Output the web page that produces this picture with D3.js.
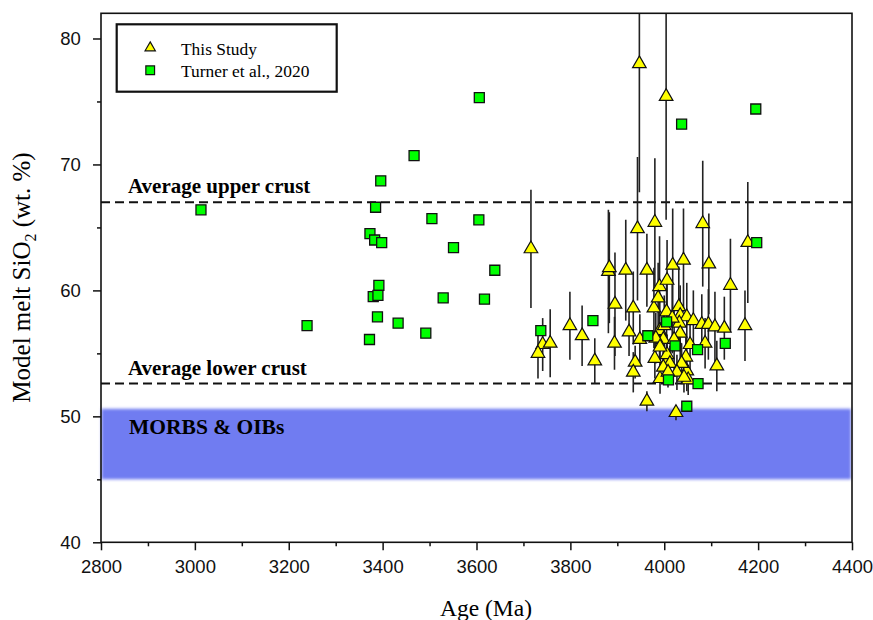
<!DOCTYPE html>
<html>
<head>
<meta charset="utf-8">
<script src="https://cdn.jsdelivr.net/npm/d3@7"></script>
<style>
  body { margin: 0; background: #fff; }
  svg { display: block; }
</style>
</head>
<body>
<script>
// This Study: age (Ma), model melt SiO2 (wt. %), +/- error
var studyAge = [3716, 3741, 3731, 3757, 3799, 3825, 3852, 3881, 3883, 3895, 3894, 3918, 3925, 3934,
    3938, 3934, 3943, 3947, 3948, 3963, 3963, 3978, 3980, 3980, 3990, 3987, 3990, 3991, 4006, 4004,
    4018, 4041, 4082, 4095, 4031, 4005, 4034, 4048, 4062, 4080, 4094, 4108, 4128, 4032, 3998, 4087,
    4112, 4048, 4051, 4025, 4005, 4141, 4178, 4172, 3982, 4034, 4006, 4046, 3991, 4012, 4037, 3998,
    4021, 4027, 4000, 4017, 4055, 4008, 4042]
var studySiO2 = [63.3, 55.7, 55.0, 55.8, 57.2, 56.4, 54.4, 61.5, 61.8, 58.9, 55.8, 61.6, 56.7, 58.6,
    54.3, 53.5, 64.9, 78.0, 56.1, 61.6, 51.2, 58.6, 65.4, 54.6, 60.3, 59.4, 56.8, 53.0, 60.8, 75.4,
    62.0, 62.4, 65.3, 62.1, 58.7, 58.3, 58.0, 57.9, 57.6, 57.3, 57.3, 57.1, 57.0, 57.4, 56.1, 55.8,
    54.0, 53.6, 52.9, 50.3, 54.3, 60.4, 63.8, 57.2, 56.2, 56.6, 54.9, 54.7, 55.5, 54.2, 54.2, 53.9,
    56.1, 53.5, 57.2, 57.8, 55.7, 53.5, 53.1]
var studyErr = [4.7, 2.1, 2.0, 2.7, 2.7, 2.4, 1.8, 4.9, 4.4, 4.1, 2.1, 4.0, 1.9, 2.9,
    1.3, 1.6, 5.7, 10.2, 2.0, 2.9, 0.8, 3.2, 5.1, 1.6, 4.0, 2.8, 2.4, 1.2, 3.2, 9.8,
    4.5, 4.1, 5.0, 4.0, 3.2, 2.8, 2.4, 2.7, 2.4, 2.4, 2.8, 2.8, 2.5, 2.0, 2.0, 2.0,
    2.0, 1.6, 1.2, 0.6, 1.4, 3.7, 4.8, 2.8, 2.0, 2.4, 1.6, 1.6, 2.0, 1.4, 1.6, 1.2,
    2.4, 1.4, 2.4, 2.8, 2.0, 1.2, 1.2]

// Turner et al., 2020
var turnerAge = [3013, 3239, 3372, 3373, 3385, 3383, 3398, 3396, 3392, 3380, 3390, 3389, 3433, 3492,
    3467, 3505, 3605, 3606, 3551, 3639, 3529, 3617, 3737, 3848, 3965, 4005, 4009, 4023, 4071, 4130,
    4072, 4048, 4037, 4195, 4197]
var turnerSiO2 = [66.4, 57.2, 56.1, 64.5, 66.6, 64.0, 63.8, 68.7, 60.4, 59.5, 59.6, 57.9, 57.4, 56.6,
    70.7, 65.7, 65.6, 75.3, 63.4, 61.6, 59.4, 59.3, 56.8, 57.6, 56.4, 57.5, 52.9, 55.6, 55.3, 55.8,
    52.6, 50.8, 73.2, 74.4, 63.8]

// reference lines and field
var upperCrust = 67.0
var lowerCrust = 52.6
var morbBand = [45.0, 50.6]

var xTicks = [2800, 3000, 3200, 3400, 3600, 3800, 4000, 4200, 4400]
var yTicks = [40, 50, 60, 70, 80]

var W = 873, H = 620
var margin = { left: 101, right: 21, top: 13.3, bottom: 77.7 }
var pw = W - margin.left - margin.right
var ph = H - margin.top - margin.bottom

var x = d3.scaleLinear().domain([2800, 4400]).range([0, pw])
var y = d3.scaleLinear().domain([40, 82]).range([ph, 0])

var svg = d3.select('body').append('svg').attr('width', W).attr('height', H)

var defs = svg.append('defs')
defs.append('filter').attr('id', 'soft').attr('x', '-5%').attr('y', '-20%')
    .attr('width', '110%').attr('height', '140%')
    .append('feGaussianBlur').attr('stdDeviation', 1.4)
defs.append('clipPath').attr('id', 'plotclip')
    .append('rect').attr('width', pw).attr('height', ph)

var g = svg.append('g').attr('transform', 'translate(' + margin.left + ',' + margin.top + ')')

// MORB / OIB field
g.append('rect')
    .attr('x', x(2801))
    .attr('width', x(4398) - x(2801))
    .attr('y', y(morbBand[1]))
    .attr('height', y(morbBand[0]) - y(morbBand[1]))
    .attr('fill', '#6f7bf1')
    .attr('filter', 'url(#soft)')

// crust lines
;[upperCrust, lowerCrust].forEach(function (v) {
    g.append('line')
        .attr('x1', 0).attr('x2', pw)
        .attr('y1', y(v)).attr('y2', y(v))
        .attr('stroke', '#111')
        .attr('stroke-width', 2)
        .attr('stroke-dasharray', '9,5')
})

var serif = '"Liberation Serif", "Times New Roman", serif'
var sans = '"Liberation Sans", Arial, sans-serif'

g.append('text').attr('x', 27).attr('y', y(upperCrust) - 9)
    .attr('font-family', serif).attr('font-weight', 'bold').attr('font-size', 21)
    .text('Average upper crust')
g.append('text').attr('x', 27).attr('y', y(lowerCrust) - 9)
    .attr('font-family', serif).attr('font-weight', 'bold').attr('font-size', 21)
    .text('Average lower crust')
g.append('text').attr('x', 28).attr('y', y(48.6))
    .attr('font-family', serif).attr('font-weight', 'bold').attr('font-size', 21.5)
    .text('MORBS & OIBs')

// points
var pts = g.append('g').attr('clip-path', 'url(#plotclip)')

var study = studyAge.map(function (a, i) {
    return { age: a, si: studySiO2[i], err: studyErr[i] }
})
var turner = turnerAge.map(function (a, i) {
    return { age: a, si: turnerSiO2[i] }
})

pts.selectAll('line.err').data(study).enter().append('line')
    .attr('class', 'err')
    .attr('x1', function (d) { return x(d.age) })
    .attr('x2', function (d) { return x(d.age) })
    .attr('y1', function (d) { return y(d.si + d.err) })
    .attr('y2', function (d) { return y(d.si - d.err) })
    .attr('stroke', '#222')
    .attr('stroke-width', 1.6)

var tri = d3.symbol().type(d3.symbolTriangle).size(80)
var sq = d3.symbol().type(d3.symbolSquare).size(100)

pts.selectAll('path.tri').data(study).enter().append('path')
    .attr('class', 'tri')
    .attr('d', tri)
    .attr('transform', function (d) { return 'translate(' + x(d.age) + ',' + y(d.si) + ')' })
    .attr('fill', '#ffff00')
    .attr('stroke', '#111')
    .attr('stroke-width', 1.2)

pts.selectAll('path.sq').data(turner).enter().append('path')
    .attr('class', 'sq')
    .attr('d', sq)
    .attr('transform', function (d) { return 'translate(' + x(d.age) + ',' + y(d.si) + ')' })
    .attr('fill', '#00ff00')
    .attr('stroke', '#111')
    .attr('stroke-width', 1.3)

// frame
g.append('rect').attr('width', pw).attr('height', ph)
    .attr('fill', 'none').attr('stroke', '#111').attr('stroke-width', 1.6)

// axes
var xAxis = d3.axisBottom(x).tickValues(xTicks).tickSize(8).tickFormat(d3.format('d'))
var xMinor = d3.axisBottom(x).tickValues(d3.range(2900, 4400, 200)).tickSize(4).tickFormat('')
var yAxis = d3.axisLeft(y).tickValues(yTicks).tickSize(8)
var yMinor = d3.axisLeft(y).tickValues([45, 55, 65, 75]).tickSize(4).tickFormat('')

function styleAxis(sel) {
    sel.select('.domain').remove()
    sel.selectAll('line').attr('stroke', '#111').attr('stroke-width', 1.5)
    sel.selectAll('text').attr('font-family', sans).attr('font-size', 18.5).attr('fill', '#111')
}

g.append('g').attr('transform', 'translate(0,' + ph + ')').call(xAxis).call(styleAxis)
    .selectAll('text').attr('dy', '1.05em')
g.append('g').attr('transform', 'translate(0,' + ph + ')').call(xMinor).call(styleAxis)
g.append('g').call(yAxis).call(styleAxis)
    .selectAll('text').attr('dx', '-0.5em')
g.append('g').call(yMinor).call(styleAxis)

// axis titles
svg.append('text')
    .attr('x', 486).attr('y', 616)
    .attr('text-anchor', 'middle')
    .attr('font-family', serif).attr('font-size', 23.5)
    .text('Age (Ma)')

var yt = svg.append('text')
    .attr('transform', 'translate(30,277.5) rotate(-90)')
    .attr('text-anchor', 'middle')
    .attr('font-family', serif).attr('font-size', 25)
yt.append('tspan').text('Model melt SiO')
yt.append('tspan').attr('font-size', 16).attr('dy', 6).text('2')
yt.append('tspan').attr('dy', -6).text(' (wt. %)')

// legend
var lg = svg.append('g').attr('transform', 'translate(116.7,24.3)')
lg.append('rect').attr('width', 220).attr('height', 67.4)
    .attr('fill', '#fff').attr('stroke', '#111').attr('stroke-width', 2.2)
lg.append('path').attr('d', d3.symbol().type(d3.symbolTriangle).size(46))
    .attr('transform', 'translate(33.5,23.5)')
    .attr('fill', '#ffff00').attr('stroke', '#111').attr('stroke-width', 1.2)
lg.append('path').attr('d', d3.symbol().type(d3.symbolSquare).size(76))
    .attr('transform', 'translate(33.5,46)')
    .attr('fill', '#00ff00').attr('stroke', '#111').attr('stroke-width', 1.2)
lg.append('text').attr('x', 64.3).attr('y', 30.5)
    .attr('font-family', serif).attr('font-size', 17.4).text('This Study')
lg.append('text').attr('x', 64.3).attr('y', 52.5)
    .attr('font-family', serif).attr('font-size', 17.4).text('Turner et al., 2020')
</script>
</body>
</html>
